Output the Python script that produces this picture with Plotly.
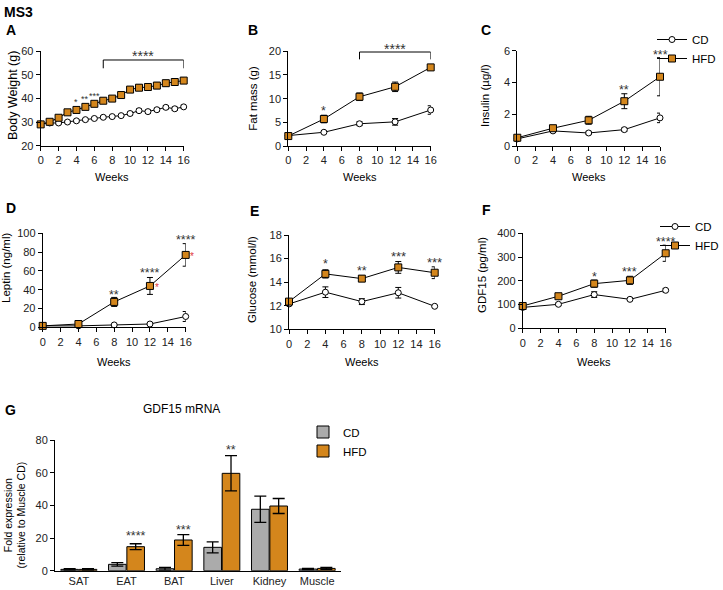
import plotly.graph_objects as go

W, H = 723, 590
FONT = "Arial, 'Liberation Sans', sans-serif"
ORANGE = "#D4861C"
GREY = "#ABABAB"
STAR = "#333333"

# ---------------- data ----------------
weeks_bw = [0, 1, 2, 3, 4, 5, 6, 7, 8, 9, 10, 11, 12, 13, 14, 15, 16]
bw_cd = [29.2, 29.6, 29.6, 30.0, 30.5, 31.0, 31.5, 32.0, 32.3, 32.7, 33.6, 34.8, 34.4, 35.2, 36.2, 35.6, 36.4]
bw_cd_err = [0.5, 0.5, 0.5, 0.5, 0.5, 0.5, 0.5, 0.5, 0.5, 0.5, 0.6, 0.7, 0.7, 0.6, 0.7, 0.7, 0.7]
bw_hfd = [29.0, 30.1, 31.8, 34.1, 35.1, 36.4, 37.7, 39.0, 39.9, 41.4, 43.7, 44.5, 44.8, 45.4, 46.4, 46.9, 47.5]
bw_hfd_err = [0.6, 0.7, 0.8, 0.9, 0.9, 0.9, 1.0, 1.0, 1.0, 1.1, 1.1, 1.2, 1.2, 1.3, 1.2, 1.2, 1.2]

weeks = [0, 4, 8, 12, 16]
fat_cd = [2.2, 2.9, 4.7, 5.1, 7.6]
fat_cd_err = [0.2, 0.2, 0.4, 0.7, 0.9]
fat_hfd = [2.1, 5.7, 10.4, 12.5, 16.6]
fat_hfd_err = [0.2, 0.8, 0.8, 1.0, 0.5]

ins_cd = [0.45, 0.95, 0.82, 1.03, 1.77]
ins_cd_err = [0.05, 0.08, 0.1, 0.1, 0.3]
ins_hfd = [0.52, 1.12, 1.62, 2.82, 4.36]
ins_hfd_err = [0.05, 0.1, 0.25, 0.47, 1.2]

lep_cd = [1.5, 1.5, 2.5, 3.5, 11.5]
lep_cd_err = [0.3, 0.5, 0.6, 0.8, 5.3]
lep_hfd = [1.5, 3.5, 27.0, 44.0, 77.0]
lep_hfd_err = [0.3, 0.8, 4.8, 9.0, 12.0]

glu_cd = [12.15, 13.15, 12.35, 13.1, 11.95]
glu_cd_err = [0.15, 0.45, 0.25, 0.45, 0.05]
glu_hfd = [12.35, 14.7, 14.3, 15.25, 14.8]
glu_hfd_err = [0.15, 0.35, 0.25, 0.5, 0.5]

gdf_cd = [88, 101, 142, 122, 160]
gdf_cd_err = [5, 5, 12, 5, 8]
gdf_hfd = [94, 135, 188, 202, 316]
gdf_hfd_err = [6, 6, 15, 17, 34]

tissues = ["SAT", "EAT", "BAT", "Liver", "Kidney", "Muscle"]
mrna_cd = [0.8, 3.9, 1.2, 14.3, 37.6, 1.0]
mrna_cd_err = [0.5, 1.1, 0.8, 3.4, 8.0, 0.4]
mrna_hfd = [0.8, 14.7, 18.8, 59.6, 39.6, 1.4]
mrna_hfd_err = [0.5, 1.8, 3.3, 10.8, 4.6, 0.6]

# ---------------- layout of panels (pixel boxes) ----------------
# key: (axis suffix, left, right, top, bottom, yrange, ydtick)
PANELS = {
    "A": ("", 40.7, 183.7, 51.0, 145.7, [20, 60], 10),
    "B": ("2", 288.3, 430.7, 51.3, 146.0, [0, 20], 5),
    "C": ("3", 517.3, 660.0, 50.7, 146.0, [0, 6], 2),
    "D": ("4", 42.7, 185.7, 233.3, 327.3, [0, 100], 20),
    "E": ("5", 289.0, 434.7, 235.0, 329.3, [10, 18], 2),
    "F": ("6", 522.7, 665.7, 233.3, 328.3, [0, 400], 100),
    "G": ("7", 55.0, 341.0, 440.0, 570.7, [0, 80], 20),
}
XRANGE = [0, 16]


def ypaper(key, v):
    _, _, _, top, bot, yr, _ = PANELS[key]
    frac = (v - yr[0]) / (yr[1] - yr[0])
    return 1 - (bot - frac * (bot - top)) / H


def xpaper(key, v):
    _, l, r, _, _, _, _ = PANELS[key]
    frac = (v - XRANGE[0]) / (XRANGE[1] - XRANGE[0])
    return (l + frac * (r - l)) / W


def px_x(x):
    return x / W


def px_y(y):
    return 1 - y / H


fig = go.Figure()

line_panels = [
    ("A", weeks_bw, bw_cd, bw_cd_err, bw_hfd, bw_hfd_err, None),
    ("B", weeks, fat_cd, fat_cd_err, fat_hfd, fat_hfd_err, None),
    ("C", weeks, ins_cd, ins_cd_err, ins_hfd, ins_hfd_err, "legend"),
    ("D", weeks, lep_cd, lep_cd_err, lep_hfd, lep_hfd_err, None),
    ("E", weeks, glu_cd, glu_cd_err, glu_hfd, glu_hfd_err, None),
    ("F", weeks, gdf_cd, gdf_cd_err, gdf_hfd, gdf_hfd_err, "legend2"),
]

for key, xs, cd, cde, hfd, hfde, leg in line_panels:
    sfx = PANELS[key][0]
    for name, ys, es, sym, size, fill in [
        ("CD", cd, cde, "circle", 6, "white"),
        ("HFD", hfd, hfde, "square", 7, ORANGE),
    ]:
        fig.add_trace(go.Scatter(
            x=xs, y=ys, name=name, mode="lines+markers",
            line=dict(color="black", width=1),
            marker=dict(symbol=sym, size=size, color=fill, line=dict(color="black", width=1)),
            error_y=dict(type="data", array=es, color="black", thickness=1, width=3),
            xaxis="x" + sfx, yaxis="y" + sfx, cliponaxis=False,
            showlegend=leg is not None, legend=leg if leg else "legend",
        ))

for name, ys, es, col in [("CD", mrna_cd, mrna_cd_err, GREY), ("HFD", mrna_hfd, mrna_hfd_err, ORANGE)]:
    fig.add_trace(go.Bar(
        x=tissues, y=ys, name=name,
        marker=dict(color=col, line=dict(color="black", width=1)),
        error_y=dict(type="data", array=es, color="black", thickness=1.3, width=6),
        xaxis="x7", yaxis="y7", legend="legend3", showlegend=True,
    ))

axis_common = dict(showline=True, linecolor="black", linewidth=1, ticks="outside",
                   ticklen=4, tickwidth=1, tickcolor="black", showgrid=False,
                   zeroline=False, tickfont=dict(size=11, color="#222", family=FONT),
                   fixedrange=True, automargin=False)

layout_axes = {}
for key, (sfx, l, r, t, b, yr, ydt) in PANELS.items():
    xd = [l / W, r / W]
    yd = [1 - b / H, 1 - t / H]
    if key == "G":
        layout_axes["xaxis" + sfx] = dict(axis_common, domain=xd, anchor="y" + sfx,
                                           type="category", range=[-0.5, 5.5], ticks="")
    else:
        layout_axes["xaxis" + sfx] = dict(axis_common, domain=xd, anchor="y" + sfx,
                                           range=XRANGE, dtick=2, tick0=0)
    layout_axes["yaxis" + sfx] = dict(axis_common, domain=yd, anchor="x" + sfx,
                                       range=yr, dtick=ydt, tick0=yr[0])

fig.update_layout(**layout_axes)

ann = []


def text(x, y, s, size=12, bold=False, xanchor="center", angle=0, color="black"):
    ann.append(dict(x=px_x(x), y=px_y(y), xref="paper", yref="paper", text=("<b>%s</b>" % s) if bold else s,
                    showarrow=False, xanchor=xanchor, yanchor="middle", textangle=angle,
                    font=dict(size=size, color=color, family=FONT)))


# figure / panel labels
text(2, 12, "MS3", size=14, bold=True, xanchor="left")
for lab, x, y in [("A", 4, 30), ("B", 246, 30), ("C", 479, 30), ("D", 4, 208), ("E", 248, 211), ("F", 480, 210), ("G", 3, 410)]:
    text(x, y, lab, size=14, bold=True, xanchor="left")

# axis titles
text(13, 96, "Body Weight (g)", size=12.5, angle=-90)
for x, y, s in [(252.7, 98, "Fat mass (g)"), (485, 95, "Insulin (µg/l)"),
                (6, 268, "Leptin (ng/ml)"), (252, 280, "Glucose (mmol/l)"), (482, 275, "GDF15 (pg/ml)")]:
    text(x, y, s, size=11.5, angle=-90)
text(14.5, 515, "Fold expression<br>(relative to Muscle CD)", size=10.5, angle=-90)
for x, y in [(112, 177), (359.5, 176.5), (588.7, 176.5), (114, 362), (362, 362), (594, 362)]:
    text(x, y, "Weeks", size=11)
text(181.7, 409, "GDF15 mRNA", size=12)

# significance stars (panel, data x, data y, label, font size)
stars = [
    ("A", 4, 39.3, "*", 9), ("A", 5, 40.5, "**", 9), ("A", 6, 41.9, "***", 9), ("A", 11.5, 59.3, "****", 14),
    ("B", 4, 7.96, "*", 12.5), ("B", 12, 21.2, "****", 14),
    ("C", 12, 3.73, "**", 12.5), ("C", 16, 5.92, "***", 12.5),
    ("D", 8, 37.9, "**", 12.5), ("D", 12, 61, "****", 12.5), ("D", 16, 96.4, "****", 12.5),
    ("E", 4, 15.82, "*", 12.5), ("E", 8, 15.17, "**", 12.5), ("E", 12, 16.45, "***", 13), ("E", 16, 15.94, "***", 13),
    ("F", 8, 227, "*", 12.5), ("F", 12, 250, "***", 12.5), ("F", 16, 377, "****", 12.5),
]
for key, x, y, s, fs in stars:
    ann.append(dict(x=xpaper(key, x), y=ypaper(key, y), xref="paper", yref="paper", text=s, showarrow=False,
                    xanchor="center", yanchor="middle", yshift=-0.23 * fs,
                    font=dict(size=fs, color=STAR, family=FONT)))
# red markers next to leptin points
for x, y in [(12.75, 44), (16.67, 77)]:
    ann.append(dict(x=xpaper("D", x), y=ypaper("D", y), xref="paper", yref="paper", text="*", showarrow=False,
                    xanchor="center", yanchor="middle", yshift=-2,
                    font=dict(size=10, color="#E0393E", family=FONT)))

bar_off = (1 - 0.23) / 4
for i, y, s in [(1, 23.1, "****"), (2, 26.9, "***"), (3, 76.0, "**")]:
    ann.append(dict(x=i + bar_off, y=ypaper("G", y), xref="x7", yref="paper", text=s, showarrow=False,
                    xanchor="center", yanchor="middle", yshift=-3,
                    font=dict(size=12.5, color=STAR, family=FONT)))

# brackets
shapes = []


def bracket(key, x0, x1, ytop, ybot):
    sfx = PANELS[key][0]
    yt, yb = ypaper(key, ytop), ypaper(key, ybot)
    ln = dict(color="black", width=1)
    shapes.append(dict(type="line", xref="x" + sfx, yref="paper", x0=x0, x1=x1, y0=yt, y1=yt, line=ln))
    shapes.append(dict(type="line", xref="x" + sfx, yref="paper", x0=x0, x1=x0, y0=yt, y1=yb, line=ln))
    shapes.append(dict(type="line", xref="x" + sfx, yref="paper", x0=x1, x1=x1, y0=yt, y1=yb, line=ln))


bracket("A", 7, 16, 56.2, 52.7)
bracket("B", 8, 16, 19.85, 18.3)

leg_common = dict(xanchor="left", yanchor="middle", bgcolor="rgba(0,0,0,0)",
                  font=dict(size=11.5, color="black", family=FONT), tracegroupgap=0, itemwidth=30)

fig.update_layout(
    width=W, height=H, autosize=False,
    margin=dict(l=0, r=0, t=0, b=0, pad=0, autoexpand=False),
    paper_bgcolor="white", plot_bgcolor="white",
    font=dict(family=FONT, color="black"),
    barmode="group", bargap=0.23, bargroupgap=0.04,
    annotations=ann, shapes=shapes,
    legend=dict(leg_common, x=652 / W, y=px_y(49)),
    legend2=dict(leg_common, x=655 / W, y=px_y(236)),
    legend3=dict(leg_common, x=303 / W, y=px_y(441.5)),
)

# the page's default 8px body margin would offset the figure; remove it
fig.write_html("out.html", config={"displayModeBar": False},
               post_script="document.body.style.margin='0';")
